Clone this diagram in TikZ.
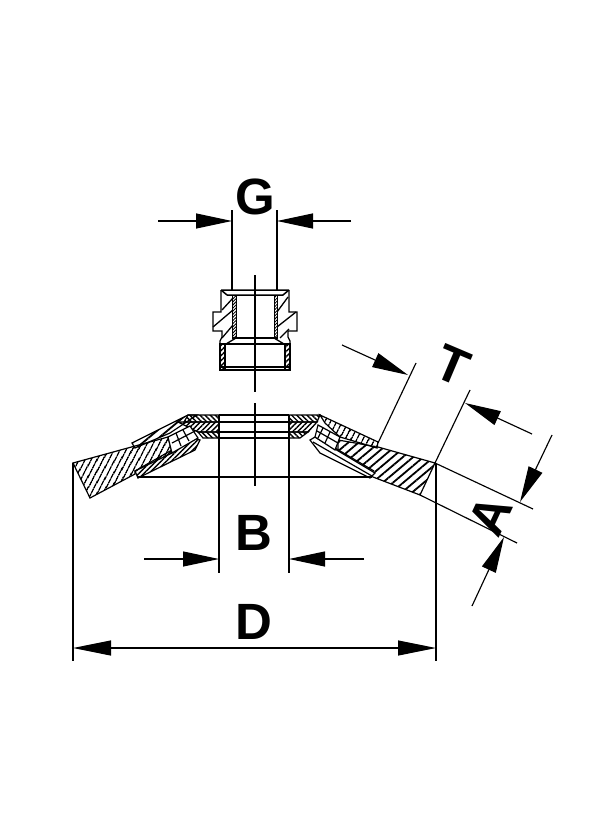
\documentclass[tikz,border=0pt]{standalone}
\usepackage{fontspec}
\setmainfont{Liberation Sans}
\usetikzlibrary{patterns.meta,arrows.meta}
\tikzset{
  x=1pt,y=-1pt,
  ln/.style={line width=1.2pt,black},
  thk/.style={line width=1.5pt,black},
  dimline/.style={line width=1.15pt,black},
  dimarrow/.style={line width=1.15pt,black,{Triangle[length=38pt,width=15pt]}-{Triangle[length=38pt,width=15pt]}},
  tip/.style={line width=1.15pt,black,-{Triangle[length=36pt,width=15pt]}},
  hatA/.style={pattern={Lines[angle=62,distance=5.4pt,line width=1.7pt]},draw=black,line width=1.2pt},
  hatB/.style={pattern={Lines[angle=40,distance=6.6pt,line width=1.8pt]},draw=black,line width=1.2pt},
  hatC/.style={pattern={Lines[angle=45,distance=3.6pt,line width=1.4pt]},draw=black,line width=1.2pt},
  hatD/.style={pattern={Lines[angle=-45,distance=3.6pt,line width=1.4pt]},draw=black,line width=1.2pt},
  hatF/.style={pattern={Lines[angle=45,distance=2.2pt,line width=.9pt]},draw=black,line width=1pt},
  nutline/.style={line width=1.3pt,black},
  lab/.style={font=\bfseries\fontsize{51}{51}\selectfont,text=black,inner sep=0pt},
}
\begin{document}
\begin{tikzpicture}
\useasboundingbox (0,0) rectangle (600,821);
\fill[white] (0,0) rectangle (600,821);

% --- nut ---
\draw[nutline] (221,290)--(221,312)--(213,312)--(213,331)--(222,331)--(222,337)--(220,341)--(220,370);
\draw[nutline] (289,290)--(289,312)--(297,312)--(297,331)--(288,331)--(288,337)--(290,341)--(290,370);
\draw[nutline] (226,344)--(236,338) (284,344)--(274,338);
\draw[nutline] (222,310)--(233,298) (213,327)--(233,310) (222,338)--(233,325);
\draw[nutline] (277,312)--(288,297) (277,327)--(296,312) (280,338)--(289,329);
\draw[hatF] (232.5,295)--(236,295)--(236,338)--(232.5,338)--cycle;
\draw[hatF] (277.5,295)--(274,295)--(274,338)--(277.5,338)--cycle;
\draw[thk] (221,290)--(289,290) (227,295)--(283,295) (221,290)--(227,295) (289,290)--(283,295);
\draw[ln] (232,338)--(278,338) (226,344)--(284,344);
\draw[hatC] (220,344)--(225,344)--(225,370)--(220,370)--cycle;
\draw[hatC] (290,344)--(285,344)--(285,370)--(290,370)--cycle;
\draw[thk] (220,367)--(290,367) (220,370)--(290,370);
\draw[ln] (225,344)--(225,367) (285,344)--(285,367);

% --- centre lines ---
\draw[ln] (255,275)--(255,392);
\draw[ln] (255,403)--(255,486);

% --- left blade and hub ---
\draw[hatA] (73,463)--(168,437)--(172,453)--(135,471)--(135,474)--(90,498)--cycle;
\draw[hatB] (132,443)--(188,415)--(197,415)--(170,433)--(135,448)--cycle;
\draw[hatC] (135,471)--(193,438)--(200,440)--(195,450)--(138,478)--cycle;
\draw[hatD] (188,415)--(219,415)--(219,422)--(184,422)--cycle;
\draw[hatC] (178,422)--(219,422)--(219,432)--(198,432)--cycle;
\draw[hatD] (198,432)--(219,432)--(219,438)--(203,438)--cycle;
\draw[ln,fill=white] (168,437)--(190,426)--(198,438)--(172,453)--cycle;
\draw[ln] (176,433)--(181,446) (183,430)--(189,441) (172,443)--(195,431);

% --- right blade and hub ---
\draw[hatB] (435,463)--(378,447)--(338,440)--(338,452)--(373,477)--(420,495)--cycle;
\draw[hatA] (378,442)--(320,415)--(325,423)--(340,437)--(377,448)--cycle;
\draw[ln,fill=white] (315,437)--(310,440)--(320,453)--(370,478)--(375,473)--cycle;
\draw[ln] (313,442)--(372,476) (318,438)--(374,471);
\draw[hatD] (289,415)--(320,415)--(317,422)--(289,422)--cycle;
\draw[hatC] (289,422)--(317,422)--(308,432)--(289,432)--cycle;
\draw[hatD] (289,432)--(308,432)--(300,438)--(289,438)--cycle;
\draw[ln,fill=white] (318,425)--(340,437)--(335,450)--(315,437)--cycle;
\draw[ln] (323,428)--(318,438) (330,432)--(325,443) (317,431)--(338,443);

% --- bore lines ---
\draw[ln] (219,415)--(289,415) (219,422)--(289,422) (219,432)--(289,432) (219,438)--(289,438);
\draw[ln] (138,477)--(372,477);

% --- G ---
\coordinate (g1) at (232,221); \coordinate (g2) at (277,221);
\draw[dimline] (232,210)--(232,290) (277,210)--(277,290);
\draw[tip] (158,221)--(g1);
\draw[tip] (351,221)--(g2);
\node[lab] (G) at (255,197) {G};

% --- B ---
\coordinate (b1) at (219,559); \coordinate (b2) at (289,559);
\draw[dimline] (219,415)--(219,573) (289,415)--(289,573);
\draw[tip] (144,559)--(b1);
\draw[tip] (364,559)--(b2);
\node[lab] (B) at (254,533) {B};

% --- D ---
\coordinate (d1) at (73,648); \coordinate (d2) at (436,648);
\draw[dimline] (73,463)--(73,661) (436,463)--(436,661);
\draw[dimarrow] (d1)--(d2);
\node[lab] (D) at (254,622) {D};

% --- T ---
\coordinate (t1) at (408,375); \coordinate (t2) at (465,403);
\draw[dimline] (378,443)--(416,363) (435,463)--(470,390);
\draw[tip] (342,345)--(t1);
\draw[tip] (532,434)--(t2);
\node[lab,rotate=-23] (T) at (453,365) {T};

% --- A ---
\coordinate (a1) at (520,502); \coordinate (a2) at (504,537);
\draw[dimline] (435,463)--(533,509) (420,495)--(517,543);
\draw[tip] (552,435)--(a1);
\draw[tip] (472,606)--(a2);
\node[lab,rotate=65] (A) at (490,515) {A};
\end{tikzpicture}
\end{document}
